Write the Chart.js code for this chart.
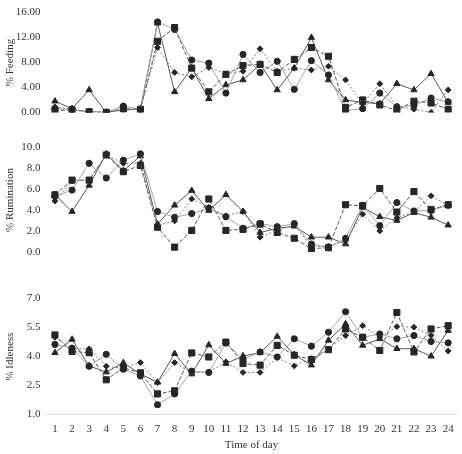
<!DOCTYPE html>
<html>
<head>
<meta charset="utf-8">
<script src="https://cdn.jsdelivr.net/npm/chart.js@4"></script>
<style>
  html, body { margin: 0; padding: 0; background: #fff; }
  #wrap { position: relative; width: 462px; height: 454px; }
  .panel { position: absolute; left: 0; width: 462px; }
</style>
</head>
<body>
<div id="wrap">
  <div class="panel" style="top:0px;height:125px"><canvas id="feeding"></canvas></div>
  <div class="panel" style="top:135px;height:130px"><canvas id="rumination"></canvas></div>
  <div class="panel" style="top:286px;height:168px"><canvas id="idleness"></canvas></div>
</div>
<script>
const hours = ['1','2','3','4','5','6','7','8','9','10','11','12','13','14','15','16','17','18','19','20','21','22','23','24'];

// % Feeding
const feedTriangle = [1.8, 0.6, 3.6, 0.0, 0.4, 0.5, 14.3, 3.3, 7.1, 2.2, 4.4, 5.2, 7.7, 3.6, 7.1, 12.0, 5.2, 2.0, 1.6, 1.4, 4.6, 3.6, 6.2, 1.6];
const feedCircle   = [0.6, 0.5, 0.1, 0.0, 1.0, 0.5, 14.5, 13.3, 8.4, 7.9, 3.1, 9.3, 6.4, 8.2, 3.7, 8.3, 6.0, 0.3, 0.6, 3.1, 0.9, 1.1, 2.3, 1.7];
const feedSquare   = [0.3, 0.4, 0.1, 0.0, 0.6, 0.5, 11.4, 13.6, 7.1, 3.3, 6.1, 7.5, 7.7, 6.4, 8.5, 10.4, 9.0, 0.8, 2.0, 1.2, 0.3, 1.8, 1.5, 0.5];
const feedDiamond  = [0.9, 0.5, 0.1, 0.1, 0.4, 0.5, 10.4, 6.4, 5.7, 7.2, 6.2, 6.6, 10.2, 6.6, 7.1, 6.8, 7.4, 5.2, 1.4, 4.6, 1.0, 0.5, 0.0, 3.6];
const feedTicks = [0, 4, 8, 12, 16];

// % Rumination
const rumTriangle = [5.5, 3.9, 6.4, 9.4, 7.8, 9.2, 2.7, 4.5, 5.9, 4.0, 5.5, 3.9, 1.9, 2.3, 2.5, 1.45, 1.45, 0.8, 4.3, 3.4, 3.05, 3.8, 3.35, 2.6];
const rumCircle   = [5.35, 5.95, 8.5, 7.1, 8.8, 9.4, 3.9, 3.35, 3.7, 4.2, 3.4, 2.3, 2.75, 2.45, 2.75, 0.8, 0.45, 1.35, 4.5, 2.55, 4.75, 3.95, 4.0, 4.5];
const rumSquare   = [5.5, 6.9, 6.9, 9.3, 7.7, 8.3, 2.4, 0.5, 2.1, 5.1, 2.1, 2.2, 2.7, 1.9, 1.35, 0.36, 0.45, 4.55, 4.45, 6.1, 3.85, 5.8, 4.1, 4.55];
const rumDiamond  = [4.9, 6.8, 6.9, 9.3, 8.5, 8.5, 2.6, 3.0, 5.1, 4.3, 3.5, 3.9, 1.45, 2.1, 2.6, 0.6, 0.6, 1.1, 3.65, 2.05, 3.3, 3.9, 5.4, 4.5];
const rumTicks = [0, 2, 4, 6, 8, 10];

// % Idleness
const idleTriangle = [4.2, 4.89, 3.52, 3.2, 3.68, 3.1, 2.67, 4.15, 3.1, 4.6, 3.64, 4.03, 4.2, 5.04, 4.1, 3.56, 4.84, 5.69, 4.58, 4.92, 4.41, 4.41, 4.02, 5.35];
const idleCircle   = [4.63, 4.44, 3.5, 4.12, 3.35, 3.0, 1.51, 2.07, 3.25, 3.18, 4.7, 3.85, 4.24, 3.98, 4.92, 4.54, 5.26, 6.32, 5.0, 5.17, 4.92, 5.09, 4.78, 4.71];
const idleSquare   = [5.12, 4.27, 4.2, 2.8, 3.42, 3.16, 2.07, 2.23, 4.19, 3.98, 4.75, 3.64, 3.56, 4.58, 4.07, 3.85, 4.36, 5.43, 5.0, 4.32, 6.28, 4.24, 5.43, 5.6];
const idleDiamond  = [5.0, 4.4, 4.4, 3.5, 3.4, 3.69, 2.65, 3.69, 3.15, 3.2, 3.73, 3.18, 3.18, 3.95, 3.52, 3.9, 4.4, 5.09, 5.6, 5.0, 5.55, 5.52, 5.1, 4.29];
const idleTicks = [1.0, 2.5, 4.0, 5.5, 7.0];

const FONT = { family: '"Liberation Serif", "Times New Roman", serif', size: 11 };
const TEXT = '#333333';
const MARK = '#262626';

function series(data, kind) {
    const base = {
        data: data,
        fill: false,
        tension: 0,
        borderWidth: 1,
        pointBackgroundColor: MARK,
        pointBorderColor: MARK,
        pointBorderWidth: 1
    };
    if (kind === 'triangle') {
        return Object.assign(base, { borderColor: '#595959', pointStyle: 'triangle', pointRadius: 3.6 });
    }
    if (kind === 'circle') {
        return Object.assign(base, { borderColor: '#a6a6a6', pointStyle: 'circle', pointRadius: 3.1 });
    }
    if (kind === 'square') {
        return Object.assign(base, { borderColor: '#595959', borderDash: [4, 2], pointStyle: 'rect', pointRadius: 4.3 });
    }
    return Object.assign(base, { borderColor: '#7f7f7f', borderDash: [2, 2], pointStyle: 'rectRot', pointRadius: 2.9 });
}

function makePanel(id, sets, yTicks, decimals, title, isBottom, pad) {
    const ctx = document.getElementById(id).getContext('2d');
    return new Chart(ctx, {
        type: 'line',
        data: {
            labels: hours,
            datasets: [
                series(sets[3], 'diamond'),
                series(sets[2], 'square'),
                series(sets[1], 'circle'),
                series(sets[0], 'triangle')
            ]
        },
        options: {
            responsive: true,
            maintainAspectRatio: false,
            animation: false,
            layout: { padding: { top: pad[0], bottom: pad[1], left: 0, right: 1 } },
            plugins: { legend: { display: false }, tooltip: { enabled: false } },
            scales: {
                x: {
                    display: isBottom,
                    offset: true,
                    grid: { display: false, drawTicks: false, tickLength: 0 },
                    border: { display: isBottom, color: '#d9d9d9', width: 1 },
                    ticks: { color: TEXT, font: FONT, padding: 8, maxRotation: 0, autoSkip: false },
                    title: { display: isBottom, text: 'Time of day', color: TEXT, font: FONT, padding: { top: -5, bottom: 2 } }
                },
                y: {
                    min: yTicks[0],
                    max: yTicks[yTicks.length - 1],
                    afterBuildTicks: function(scale) {
                        scale.ticks = yTicks.map(function(v) { return { value: v }; });
                    },
                    afterFit: function(scale) { scale.width = 46.4; },
                    grid: { display: false, drawTicks: false },
                    border: { display: false },
                    ticks: {
                        color: TEXT,
                        font: FONT,
                        padding: 6,
                        callback: function(value) { return Number(value).toFixed(decimals); }
                    },
                    title: { display: true, text: title, color: TEXT, font: FONT, padding: { top: 4, bottom: 0 } }
                }
            }
        }
    });
}

makePanel('feeding', [feedTriangle, feedCircle, feedSquare, feedDiamond], feedTicks, 2, '% Feeding', false, [10, 12]);
makePanel('rumination', [rumTriangle, rumCircle, rumSquare, rumDiamond], rumTicks, 1, '% Rumination', false, [10.7, 7.7]);
makePanel('idleness', [idleTriangle, idleCircle, idleSquare, idleDiamond], idleTicks, 1, '% Idleness', true, [10, 0]);
</script>
</body>
</html>
